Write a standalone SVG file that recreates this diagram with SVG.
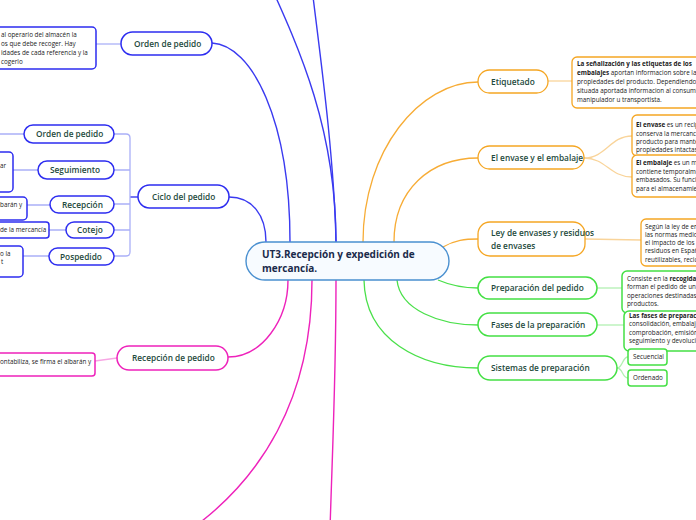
<svg xmlns="http://www.w3.org/2000/svg" width="696" height="520" viewBox="0 0 696 520">
<style>
.lbl{font-family:"Open Sans","Noto Sans",sans-serif;font-size:8.3px;font-weight:600;fill:#1d4a3c}
.det{font-family:"Open Sans","Noto Sans",sans-serif;font-size:6.3px;fill:#222}
.b{font-weight:700}
.nb{fill:#fff;stroke:#2d2df0;stroke-width:1.5}
.no{fill:#fff;stroke:#f5a623;stroke-width:1.3}
.ng{fill:#fff;stroke:#44e044;stroke-width:1.5}
.np{fill:#fff;stroke:#ee22bb;stroke-width:1.5}
.cb{fill:none;stroke:#3a3af0;stroke-width:1.4}
.cbl{fill:none;stroke:#aab0f8;stroke-width:1.3}
.co{fill:none;stroke:#f7ac35;stroke-width:1.3}
.col{fill:none;stroke:#f9d49a;stroke-width:1.3}
.cg{fill:none;stroke:#4ae04a;stroke-width:1.3}
.cgl{fill:none;stroke:#b2f0b2;stroke-width:1.3}
.cp{fill:none;stroke:#ee22bb;stroke-width:1.4}
.cpl{fill:none;stroke:#f7a6e4;stroke-width:1.3}
</style>
<rect width="696" height="520" fill="#fff"/>
<g id="connectors">
<path class="cb" d="M229,197 C252,197 266,215 266,242"/>
<path class="cb" d="M212,43 C252,45 290,120 290,242"/>
<path class="cb" d="M336,242 C336,130 300,50 268,-20"/>
<path class="cb" d="M336,242 C334,150 318,40 311,-20"/>
<path class="co" d="M363,242 C363,150 420,82 478,82"/>
<path class="co" d="M394,242 C394,190 430,158 478,158"/>
<path class="co" d="M443,247 C455,240 465,239 478,239"/>
<path class="cg" d="M438,280 C452,286 465,288 478,288"/>
<path class="cg" d="M397,280 C400,310 440,325 478,325"/>
<path class="cg" d="M364,280 C365,340 420,368 478,368"/>
<path class="cp" d="M228,357 C262,357 288,320 288,280"/>
<path class="cp" d="M312,280 C312,400 260,480 190,530"/>
<path class="cp" d="M336,280 C336,380 332,460 330,530"/>
<path class="col" d="M548,81 L572,81"/>
<path class="col" d="M584,158 C606,158 610,136 632,136"/>
<path class="col" d="M584,158 C606,158 610,177 632,177"/>
<path class="col" d="M585,239 L641,240"/>
<path class="cgl" d="M597,288 L622,288"/>
<path class="cgl" d="M597,325 L624,325"/>
<path class="cgl" d="M617,368 C623,368 622,357 628,357"/>
<path class="cgl" d="M617,368 C623,368 622,378 628,378"/>
<path class="cbl" d="M121,44 L96,44"/>
<path class="cpl" d="M117,358 L95,361"/>
<path class="cb" d="M138,197 L130,197"/>
<path class="cbl" d="M114,134 L126,134 Q130,134 130,138 L130,252 Q130,256 126,256 L114,256 M114,170 L130,170 M114,204 L130,204 M114,230 L130,230"/>
<path class="cbl" d="M24,134 L0,134 M38,170 L13,170 M50,205 L27,205 M66,230 L49,230 M49,256 L23,256"/>
</g>
<g id="center">
<rect x="246" y="242" width="203" height="38" rx="19" fill="#f7fbff" stroke="#4a90d0" stroke-width="1.4"/>
<text x="262" y="258" font-family="'Open Sans','Noto Sans',sans-serif" font-size="10px" font-weight="700" fill="#1a2a4a">UT3.Recepción y expedición de</text>
<text x="262" y="272" font-family="'Open Sans','Noto Sans',sans-serif" font-size="10px" font-weight="700" fill="#1a2a4a">mercancía.</text>
</g>
<g id="orden-top">
<rect class="nb" x="121" y="32" width="91" height="23" rx="11.5"/>
<text class="lbl" x="134" y="47">Orden de pedido</text>
</g>
<g id="orden-top-det">
<rect class="nb" x="-10" y="27" width="106" height="42" rx="4"/>
<text class="det" x="1" y="37">al operario del almacén la</text>
<text class="det" x="1" y="46">os que debe recoger. Hay</text>
<text class="det" x="1" y="55">idades de cada referencia y la</text>
<text class="det" x="1" y="64">cogerlo</text>
</g>
<g id="ciclo">
<rect class="nb" x="138" y="185" width="91" height="23" rx="11.5"/>
<text class="lbl" x="152" y="200">Ciclo del pedido</text>
</g>
<g id="c-orden">
<rect class="nb" x="24" y="125" width="90" height="18" rx="9"/>
<text class="lbl" x="36" y="137">Orden de pedido</text>
</g>
<g id="c-seg">
<rect class="nb" x="38" y="161" width="76" height="18" rx="9"/>
<text class="lbl" x="50" y="173">Seguimiento</text>
</g>
<g id="c-seg-det">
<rect class="nb" x="-10" y="152" width="23" height="40" rx="4"/>
<text class="det" x="0" y="168">ar</text>
</g>
<g id="c-rec">
<rect class="nb" x="50" y="196" width="64" height="17" rx="8.5"/>
<text class="lbl" x="62" y="208">Recepción</text>
</g>
<g id="c-rec-det">
<rect class="nb" x="-10" y="197" width="37" height="23" rx="4"/>
<text class="det" x="-5" y="207">albarán y</text>
</g>
<g id="c-cot">
<rect class="nb" x="66" y="222" width="48" height="16" rx="8"/>
<text class="lbl" x="77" y="233">Cotejo</text>
</g>
<g id="c-cot-det">
<rect class="nb" x="-10" y="222" width="59" height="16" rx="3"/>
<text class="det" x="0" y="232">de la mercancía</text>
</g>
<g id="c-pos">
<rect class="nb" x="49" y="248" width="65" height="17" rx="8.5"/>
<text class="lbl" x="60" y="260">Pospedido</text>
</g>
<g id="c-pos-det">
<rect class="nb" x="-10" y="246" width="33" height="31" rx="4"/>
<text class="det" x="0" y="256">o la</text>
<text class="det" x="1" y="264">t</text>
</g>
<g id="recep">
<rect class="np" x="117" y="346" width="111" height="24" rx="12"/>
<text class="lbl" x="132" y="361">Recepción de pedido</text>
</g>
<g id="recep-det">
<rect class="np" x="-10" y="353" width="105" height="23" rx="3"/>
<text class="det" x="0" y="364">ontabiliza, se firma el albarán y</text>
</g>
<g id="etiq">
<rect class="no" x="478" y="70" width="70" height="23" rx="11.5"/>
<text class="lbl" x="491" y="85">Etiquetado</text>
</g>
<g id="etiq-det">
<rect class="no" x="572" y="57" width="140" height="51" rx="5"/>
<text class="det" x="577" y="66"><tspan class="b">La señalización y las etiquetas de los</tspan></text>
<text class="det" x="577" y="75"><tspan class="b">embalajes</tspan> aportan informacion sobre las</text>
<text class="det" x="577" y="84">propiedades del producto. Dependiendo</text>
<text class="det" x="577" y="93">situada aportada informacion al consumidor</text>
<text class="det" x="577" y="102">manipulador u transportista.</text>
</g>
<g id="envase">
<rect class="no" x="478" y="146" width="106" height="23" rx="11.5"/>
<text class="lbl" x="491" y="161">El envase y el embalaje</text>
</g>
<g id="envase-det1">
<rect class="no" x="632" y="115" width="80" height="41" rx="5"/>
<text class="det" x="636" y="127"><tspan class="b">El envase</tspan> es un recipiente</text>
<text class="det" x="636" y="136">conserva la mercancía</text>
<text class="det" x="636" y="144">producto para mantener</text>
<text class="det" x="636" y="152">propiedades intactas</text>
</g>
<g id="envase-det2">
<rect class="no" x="632" y="155" width="80" height="42" rx="5"/>
<text class="det" x="636" y="165"><tspan class="b">El embalaje</tspan> es un medio</text>
<text class="det" x="636" y="174">contiene temporalmente</text>
<text class="det" x="636" y="182">embasados. Su función</text>
<text class="det" x="636" y="191">para el almacenamiento</text>
</g>
<g id="ley">
<rect class="no" x="478" y="222" width="107" height="34" rx="12"/>
<text class="lbl" x="491" y="236">Ley de envases y residuos</text>
<text class="lbl" x="491" y="249">de envases</text>
</g>
<g id="ley-det">
<rect class="no" x="641" y="219" width="70" height="47" rx="5"/>
<text class="det" x="645" y="229">Según la ley de envases</text>
<text class="det" x="645" y="237">las normas medioambientales</text>
<text class="det" x="645" y="245">el impacto de los envases</text>
<text class="det" x="645" y="253">residuos en España</text>
<text class="det" x="645" y="262">reutilizables, reciclables</text>
</g>
<g id="prep">
<rect class="ng" x="478" y="277" width="119" height="22" rx="11"/>
<text class="lbl" x="491" y="291">Preparación del pedido</text>
</g>
<g id="prep-det">
<rect class="ng" x="622" y="271" width="90" height="42" rx="5"/>
<text class="det" x="627" y="281">Consiste en la <tspan class="b">recogida y</tspan></text>
<text class="det" x="627" y="289">forman el pedido de un cliente</text>
<text class="det" x="627" y="298">operaciones destinadas a</text>
<text class="det" x="627" y="306">productos.</text>
</g>
<g id="fases">
<rect class="ng" x="478" y="313" width="119" height="23" rx="11.5"/>
<text class="lbl" x="491" y="328">Fases de la preparación</text>
</g>
<g id="fases-det">
<rect class="ng" x="624" y="311" width="90" height="40" rx="5"/>
<text class="det" x="629" y="318"><tspan class="b">Las fases de preparación</tspan></text>
<text class="det" x="629" y="326">consolidación, embalaje,</text>
<text class="det" x="629" y="335">comprobación, emisión</text>
<text class="det" x="629" y="343">seguimiento y devolución</text>
</g>
<g id="sist">
<rect class="ng" x="478" y="356" width="139" height="24" rx="12"/>
<text class="lbl" x="491" y="371">Sistemas de preparación</text>
</g>
<g id="secuencial">
<rect class="ng" x="628" y="349" width="39" height="16" rx="3"/>
<text class="det" x="633" y="359">Secuencial</text>
</g>
<g id="ordenado">
<rect class="ng" x="628" y="370" width="39" height="16" rx="3"/>
<text class="det" x="633" y="380">Ordenado</text>
</g>
</svg>
